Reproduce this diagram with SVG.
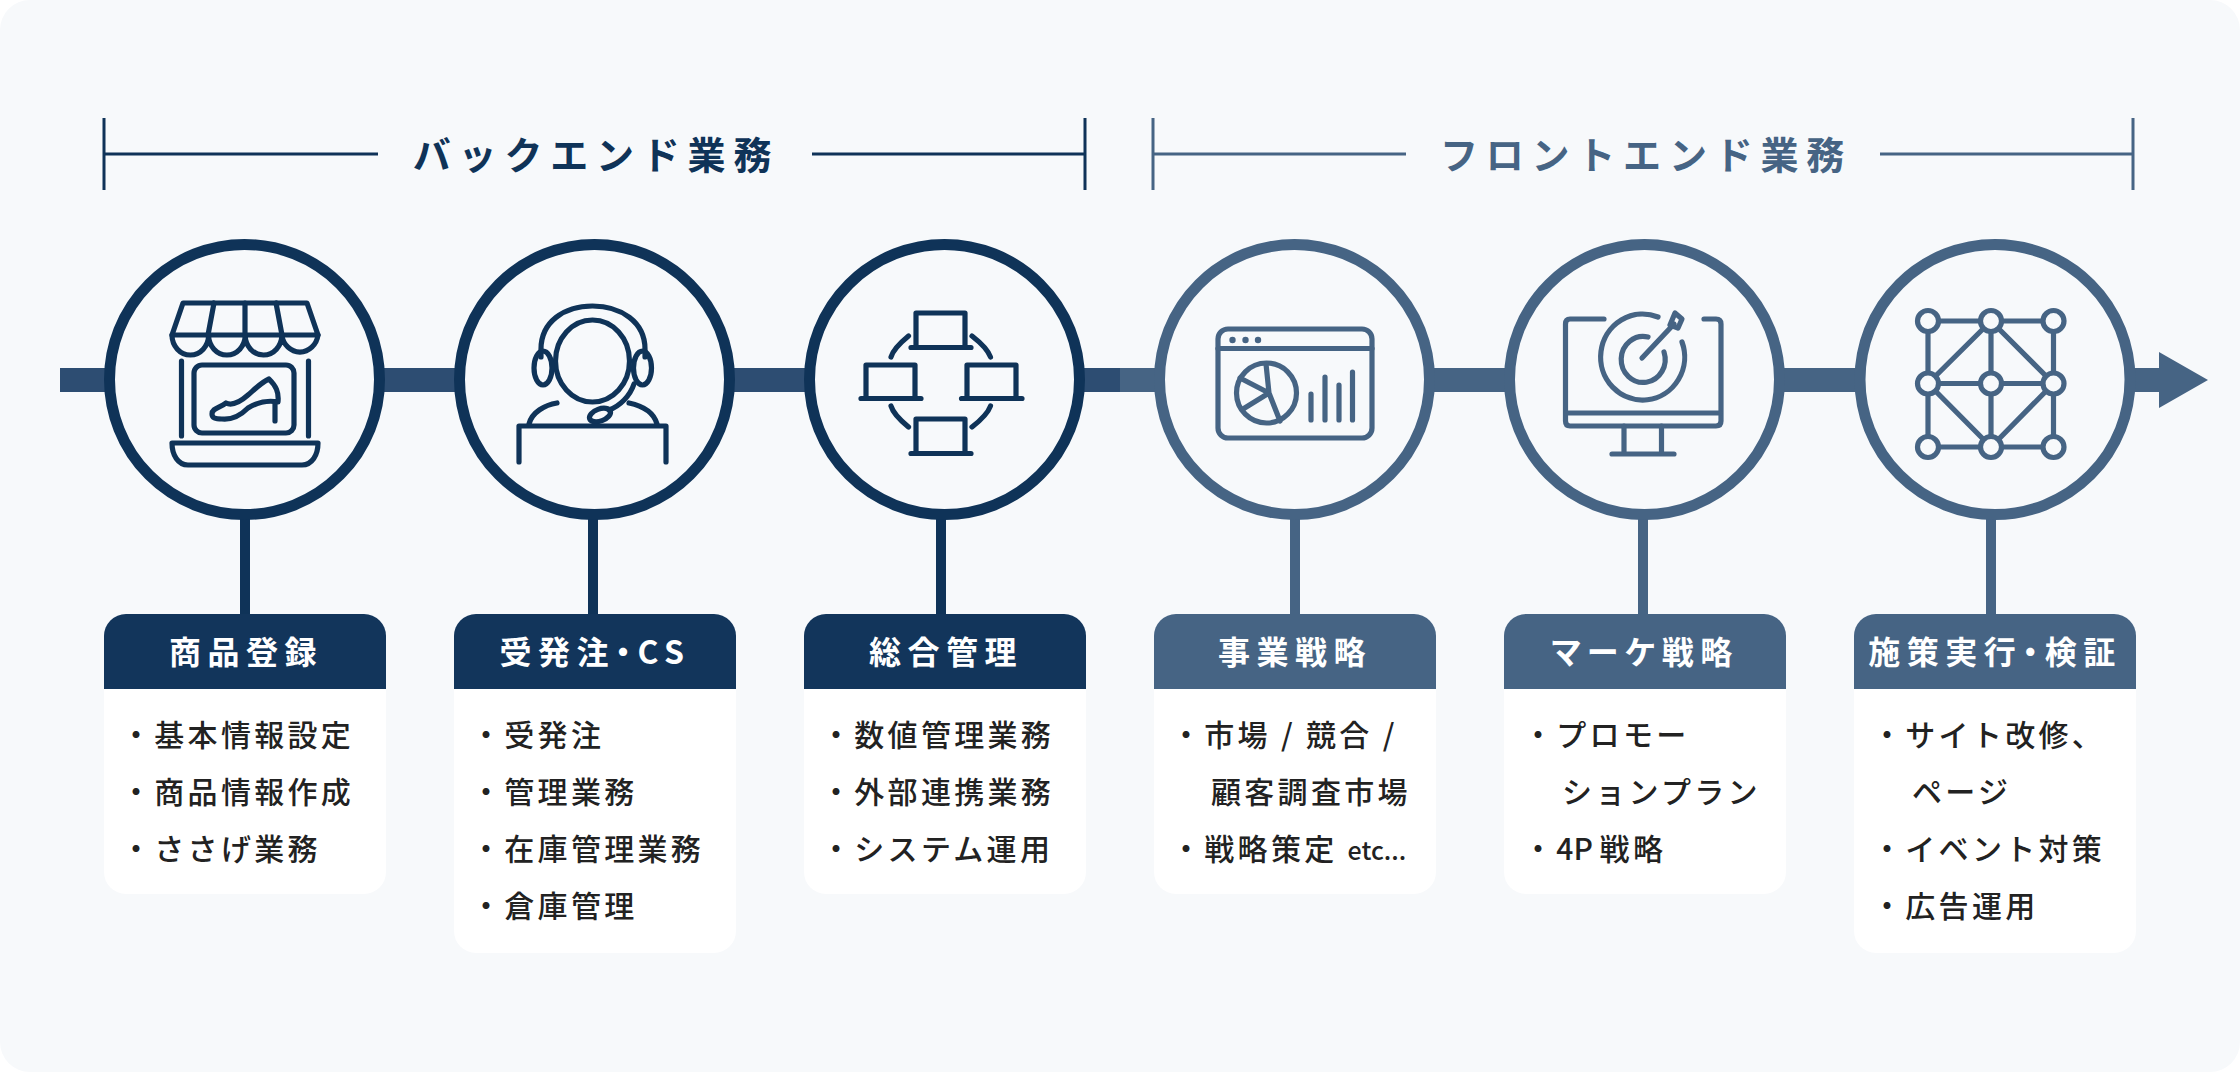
<svg xmlns="http://www.w3.org/2000/svg" width="2240" height="1072" viewBox="0 0 2240 1072">
<defs>
<style>
text{font-family:"Noto Sans CJK JP","Noto Sans",sans-serif}
.bg{fill:#f7f9fb}
.ring{fill:#f7f9fb;stroke-width:11}
.back .ring{stroke:#0f3358}.front .ring{stroke:#466484}
.ic{fill:none;stroke-width:5.2;stroke-linecap:round;stroke-linejoin:round}
.back .ic{stroke:#0f3358}.front .ic{stroke:#466484}
.hd{stroke:none}
.back .hd{fill:#12355b}.front .hd{fill:#466484}
.card{fill:#fff}
.ht{fill:#fff;font-size:32px;font-weight:700;letter-spacing:6.500px;text-anchor:middle;font-feature-settings:"palt"}
.li{fill:#222;font-size:30px;font-weight:500;letter-spacing:3.300px}
.ti{font-size:38px;font-weight:700;letter-spacing:7.800px;text-anchor:middle}
.dk{stroke:#0f3358}.lt{stroke:#466484}
.tg{font-size:25px;letter-spacing:0}
</style>
</defs>
<rect class="bg" x="0" y="0" width="2240" height="1072" rx="30"/>
<g id="connectors" fill="none">
<rect x="60" y="368" width="1060" height="24" fill="#2d4d72"/>
<rect x="1120" y="368" width="1040" height="24" fill="#466484"/>
<polygon points="2159,352 2208,380 2159,408" fill="#466484"/>
<g class="dk" stroke-width="10">
<line x1="245" y1="515" x2="245" y2="616"/><line x1="593" y1="515" x2="593" y2="616"/><line x1="941" y1="515" x2="941" y2="616"/>
</g>
<g class="lt" stroke-width="10">
<line x1="1295" y1="515" x2="1295" y2="616"/><line x1="1643" y1="515" x2="1643" y2="616"/><line x1="1991" y1="515" x2="1991" y2="616"/>
</g>
<g class="dk" stroke-width="3">
<path d="M104 118V190M1085 118V190"/><path d="M104 154H378M812 154H1085"/>
</g>
<g class="lt" stroke-width="3">
<path d="M1153 118V190M2133 118V190"/><path d="M1153 154H1406M1880 154H2133"/>
</g>
</g>
<g id="title-back"><text class="ti" x="596" y="169" fill="#0f3358">バックエンド業務</text></g>
<g id="title-front"><text class="ti" x="1646" y="169" fill="#466484">フロントエンド業務</text></g>

<g id="step1" class="back">
<circle class="ring" cx="244.500" cy="379.500" r="135"/>
<g class="ic">
<path d="M183 303H307L318 335H172Z"/>
<path d="M172 335a18.300 20 0 0 0 36.600 0a18.300 20 0 0 0 36.600 0a18.300 20 0 0 0 36.600 0a18.300 20 0 0 0 36.200 0"/>
<path d="M214 303L208 335M245 303V335M276 303L282 335"/>
<path d="M181.500 361V436M308.500 361V436"/>
<rect x="194" y="365" width="100" height="68" rx="8"/>
<path d="M212 414C212 408 220 408 226 403C232 406 240 402 248 395C256 388 262 382 269 379C276 386 279 392 278 402C268 400 258 402 248 408C240 416 232 420 222 419C215 419 212 418 212 414Z"/>
<path d="M275 402V421"/>
<path d="M172 443H318C318 455 312 465 302 465H188C178 465 172 455 172 443Z"/>
</g>
<path class="hd" d="M104 689V636a22 22 0 0 1 22-22H364a22 22 0 0 1 22 22V689Z"/>
<path class="card" d="M104 689H386V872a22 22 0 0 1-22 22H126a22 22 0 0 1-22-22Z"/>
<text class="ht" x="246" y="664">商品登録</text>
<text class="li" x="121" y="746">・基本情報設定</text>
<text class="li" x="121" y="803">・商品情報作成</text>
<text class="li" x="121" y="860">・ささげ業務</text>
</g>

<g id="step2" class="back">
<circle class="ring" cx="594.500" cy="379.500" r="135"/>
<g class="ic">
<ellipse cx="592.500" cy="361" rx="37" ry="41"/>
<path d="M541 357V349C541 322 564 306 592.500 306C621 306 645 322 645 349V357"/>
<ellipse cx="543" cy="368" rx="9" ry="17"/>
<ellipse cx="642.500" cy="368" rx="9" ry="17"/>
<path d="M634 384C630 396 620 406 609 410"/>
<ellipse cx="600" cy="415" rx="11" ry="6" transform="rotate(-20 600 415)"/>
<path d="M529 424C532 412 545 405 557 403M629 403C643 406 654 413 657 424"/>
<path d="M519 462V426H666V462"/>
</g>
<path class="hd" d="M454 689V636a22 22 0 0 1 22-22H714a22 22 0 0 1 22 22V689Z"/>
<path class="card" d="M454 689H736V931a22 22 0 0 1-22 22H476a22 22 0 0 1-22-22Z"/>
<text class="ht" x="595" y="664">受発注・CS</text>
<text class="li" x="471" y="746">・受発注</text>
<text class="li" x="471" y="803">・管理業務</text>
<text class="li" x="471" y="860">・在庫管理業務</text>
<text class="li" x="471" y="917">・倉庫管理</text>
</g>

<g id="step3" class="back">
<circle class="ring" cx="944.500" cy="379.500" r="135"/>
<g class="ic">
<path d="M916 346V313H965V346M911 347.500H971"/>
<path d="M866 397V365H915V397M861 398.500H921"/>
<path d="M967 397V365H1016V397M961.500 398.500H1022"/>
<path d="M916 452V419H965V452M911 453.500H971"/>
<path d="M908.500 336C900 343 893 350 891 357M972 336C981 343 988 350 990.500 357M891 406C893 413 900 420 908.500 427M990.500 406C988 413 981 420 972 427"/>
</g>
<path class="hd" d="M804 689V636a22 22 0 0 1 22-22H1064a22 22 0 0 1 22 22V689Z"/>
<path class="card" d="M804 689H1086V872a22 22 0 0 1-22 22H826a22 22 0 0 1-22-22Z"/>
<text class="ht" x="946" y="664">総合管理</text>
<text class="li" x="821" y="746">・数値管理業務</text>
<text class="li" x="821" y="803">・外部連携業務</text>
<text class="li" x="821" y="860">・システム運用</text>
</g>

<g id="step4" class="front">
<circle class="ring" cx="1294.500" cy="379.500" r="135"/>
<g class="ic">
<rect x="1218" y="329" width="154" height="109" rx="10"/>
<path d="M1218 348.500H1372"/>
<circle cx="1266.500" cy="393" r="30"/>
<path d="M1266 364L1269 393L1280 421M1240 378L1269 393M1243 409L1269 393"/>
<path d="M1311 394V420M1325 377V420M1339 385V420M1352.500 372V420"/>
</g>
<g class="hd" style="fill:#466484"><circle cx="1232.500" cy="340" r="3.200"/><circle cx="1245.500" cy="340" r="3.200"/><circle cx="1258" cy="340" r="3.200"/></g>
<path class="hd" d="M1154 689V636a22 22 0 0 1 22-22H1414a22 22 0 0 1 22 22V689Z"/>
<path class="card" d="M1154 689H1436V872a22 22 0 0 1-22 22H1176a22 22 0 0 1-22-22Z"/>
<text class="ht" x="1295" y="664">事業戦略</text>
<text class="li" x="1171" y="746">・市場 / 競合 /</text>
<text class="li" x="1211" y="803">顧客調査市場</text>
<text class="li" x="1171" y="860">・戦略策定 <tspan class="tg">etc...</tspan></text>
</g>

<g id="step5" class="front">
<circle class="ring" cx="1644.500" cy="379.500" r="135"/>
<g class="ic">
<path d="M1604 319H1570Q1565.500 319 1565.500 324V421Q1565.500 426 1570 426H1716Q1721 426 1721 421V324Q1721 319 1716 319H1704"/>
<path d="M1566 413H1720"/>
<path d="M1624 426V454M1661.500 426V454M1612 454H1674"/>
<path d="M1658 317A42 43 0 1 0 1682 342"/>
<path d="M1648 337A22 23 0 1 0 1664 352"/>
<path d="M1642 358L1674 324"/>
<path d="M1670 325L1675 313L1682 319L1678 328Z"/>
</g>
<path class="hd" d="M1504 689V636a22 22 0 0 1 22-22H1764a22 22 0 0 1 22 22V689Z"/>
<path class="card" d="M1504 689H1786V872a22 22 0 0 1-22 22H1526a22 22 0 0 1-22-22Z"/>
<text class="ht" x="1645" y="664">マーケ戦略</text>
<text class="li" x="1523" y="746">・プロモー</text>
<text class="li" x="1562" y="803">ションプラン</text>
<text class="li" x="1523" y="860">・<tspan style="letter-spacing:0">4P </tspan>戦略</text>
</g>

<g id="step6" class="front">
<circle class="ring" cx="1995" cy="379.500" r="135"/>
<g class="ic">
<path d="M1928 321H2053.500M1928 383.500H2053.500M1928 447H2053.500M1928 321V447M1991 321V447M2053.500 321V447M1991 321L1928 383.500L1991 447L2053.500 383.500Z"/>
</g>
<g class="ic" style="fill:#f7f9fb">
<circle cx="1928" cy="321" r="10.500"/><circle cx="1991" cy="321" r="10.500"/><circle cx="2053.500" cy="321" r="10.500"/>
<circle cx="1928" cy="383.500" r="10.500"/><circle cx="1991" cy="383.500" r="10.500"/><circle cx="2053.500" cy="383.500" r="10.500"/>
<circle cx="1928" cy="447" r="10.500"/><circle cx="1991" cy="447" r="10.500"/><circle cx="2053.500" cy="447" r="10.500"/>
</g>
<path class="hd" d="M1854 689V636a22 22 0 0 1 22-22H2114a22 22 0 0 1 22 22V689Z"/>
<path class="card" d="M1854 689H2136V931a22 22 0 0 1-22 22H1876a22 22 0 0 1-22-22Z"/>
<text class="ht" x="1995" y="664">施策実行・検証</text>
<text class="li" x="1872" y="746">・サイト改修、</text>
<text class="li" x="1912" y="803">ページ</text>
<text class="li" x="1872" y="860">・イベント対策</text>
<text class="li" x="1872" y="917">・広告運用</text>
</g>
</svg>
